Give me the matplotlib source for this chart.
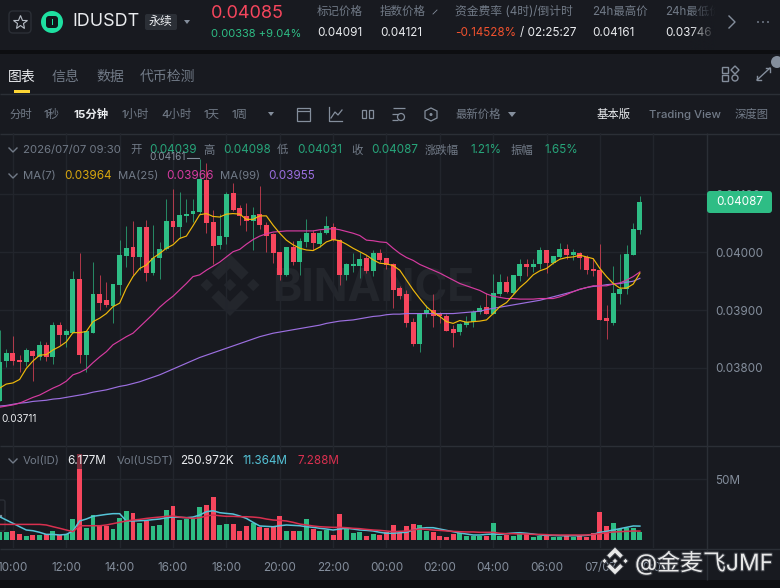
import matplotlib
matplotlib.use('Agg')
import matplotlib.pyplot as plt
import matplotlib.patheffects as pe
import numpy as np
from matplotlib.patches import FancyBboxPatch, Polygon, Rectangle, Circle

plt.rcParams['font.family'] = ['Inter', 'Noto Sans CJK SC', 'DejaVu Sans']

opens = [0.03742, 0.03812, 0.03825, 0.03814, 0.03811, 0.03830, 0.03819, 0.03839, 0.03819, 0.03874,
         0.03857, 0.03861, 0.03953, 0.03822, 0.03861, 0.03927, 0.03917, 0.03907, 0.03943, 0.03994,
         0.04010, 0.03991, 0.04044, 0.03964, 0.03990, 0.04005, 0.04054, 0.04043, 0.04063, 0.04066,
         0.04069, 0.04125, 0.04053, 0.04013, 0.04027, 0.04102, 0.04077, 0.04063, 0.04055, 0.04066,
         0.04048, 0.04032, 0.04001, 0.03960, 0.04010, 0.03983, 0.04017, 0.04034, 0.04014, 0.04034,
         0.04044, 0.04022, 0.03961, 0.03976, 0.03977, 0.03990, 0.03968, 0.03998, 0.03990, 0.03979,
         0.03939, 0.03927, 0.03879, 0.03841, 0.03893, 0.03901, 0.03894, 0.03890, 0.03867, 0.03862,
         0.03874, 0.03879, 0.03896, 0.03905, 0.03893, 0.03928, 0.03949, 0.03930, 0.03959, 0.03979,
         0.03975, 0.03979, 0.04004, 0.03982, 0.03992, 0.04006, 0.03995, 0.03999, 0.03991, 0.03971,
         0.03969, 0.03886, 0.03878, 0.03928, 0.03936, 0.03996, 0.04039]
closes = [0.03811, 0.03825, 0.03812, 0.03810, 0.03831, 0.03821, 0.03839, 0.03819, 0.03874, 0.03857,
          0.03863, 0.03953, 0.03822, 0.03863, 0.03927, 0.03913, 0.03908, 0.03945, 0.03995, 0.04008,
          0.03991, 0.04044, 0.03964, 0.03990, 0.04006, 0.04054, 0.04044, 0.04065, 0.04066, 0.04071,
          0.04127, 0.04051, 0.04011, 0.04029, 0.04101, 0.04074, 0.04062, 0.04055, 0.04065, 0.04047,
          0.04028, 0.03999, 0.03960, 0.04009, 0.03983, 0.04020, 0.04034, 0.04016, 0.04034, 0.04046,
          0.04022, 0.03960, 0.03980, 0.03979, 0.03988, 0.03968, 0.03998, 0.03986, 0.03978, 0.03935,
          0.03925, 0.03877, 0.03841, 0.03893, 0.03901, 0.03889, 0.03889, 0.03864, 0.03861, 0.03876,
          0.03880, 0.03897, 0.03904, 0.03893, 0.03930, 0.03949, 0.03931, 0.03960, 0.03979, 0.03975,
          0.03980, 0.04004, 0.03982, 0.03993, 0.04006, 0.03995, 0.04000, 0.03990, 0.03969, 0.03968,
          0.03883, 0.03881, 0.03930, 0.03936, 0.03997, 0.04040, 0.04087]
highs = [0.03866, 0.03832, 0.03855, 0.03822, 0.03834, 0.03831, 0.03847, 0.03844, 0.03880, 0.03880,
         0.03867, 0.03968, 0.03998, 0.03863, 0.03983, 0.03961, 0.03949, 0.03945, 0.04022, 0.04046,
         0.04054, 0.04044, 0.04056, 0.04047, 0.04018, 0.04092, 0.04110, 0.04104, 0.04093, 0.04092,
         0.04161, 0.04155, 0.04074, 0.04066, 0.04104, 0.04120, 0.04082, 0.04086, 0.04079, 0.04114,
         0.04053, 0.04033, 0.04001, 0.04009, 0.04020, 0.04024, 0.04057, 0.04039, 0.04039, 0.04063,
         0.04050, 0.04023, 0.03981, 0.03999, 0.04001, 0.03995, 0.04004, 0.04006, 0.03990, 0.03981,
         0.03941, 0.03934, 0.03886, 0.03894, 0.03909, 0.03928, 0.03897, 0.03893, 0.03874, 0.03877,
         0.03890, 0.03900, 0.03909, 0.03929, 0.03962, 0.03962, 0.03959, 0.03960, 0.03988, 0.03988,
         0.03988, 0.04009, 0.04004, 0.03994, 0.04016, 0.04014, 0.04005, 0.04000, 0.03995, 0.03990,
         0.04014, 0.03909, 0.03976, 0.03997, 0.04013, 0.04051, 0.04098]
lows = [0.03742, 0.03802, 0.03805, 0.03793, 0.03803, 0.03778, 0.03814, 0.03812, 0.03807, 0.03840,
        0.03837, 0.03860, 0.03808, 0.03793, 0.03860, 0.03901, 0.03906, 0.03878, 0.03926, 0.03975,
        0.03961, 0.03969, 0.03951, 0.03961, 0.03953, 0.04004, 0.04018, 0.04024, 0.04053, 0.04053,
        0.04067, 0.04034, 0.03980, 0.04005, 0.04014, 0.04072, 0.04047, 0.04037, 0.04004, 0.04041,
        0.04001, 0.03982, 0.03952, 0.03959, 0.03978, 0.03961, 0.04010, 0.04004, 0.04009, 0.04032,
        0.04020, 0.03943, 0.03952, 0.03966, 0.03956, 0.03964, 0.03959, 0.03984, 0.03971, 0.03904,
        0.03919, 0.03871, 0.03838, 0.03828, 0.03888, 0.03871, 0.03878, 0.03864, 0.03837, 0.03857,
        0.03871, 0.03871, 0.03894, 0.03893, 0.03893, 0.03924, 0.03929, 0.03928, 0.03950, 0.03959,
        0.03966, 0.03971, 0.03965, 0.03979, 0.03990, 0.03988, 0.03987, 0.03971, 0.03962, 0.03959,
        0.03883, 0.03850, 0.03874, 0.03911, 0.03928, 0.03995, 0.04031]
ma7 = [0.03765, 0.03772, 0.03774, 0.03780, 0.03799, 0.03812, 0.03822, 0.03823, 0.03831, 0.03837,
       0.03845, 0.03861, 0.03861, 0.03863, 0.03880, 0.03886, 0.03894, 0.03906, 0.03912, 0.03938,
       0.03958, 0.03972, 0.03978, 0.03990, 0.03998, 0.04007, 0.04013, 0.04024, 0.04028, 0.04046,
       0.04065, 0.04067, 0.04062, 0.04061, 0.04066, 0.04067, 0.04066, 0.04057, 0.04057, 0.04063,
       0.04063, 0.04047, 0.04033, 0.04021, 0.04013, 0.04007, 0.04004, 0.04003, 0.04009, 0.04018,
       0.04022, 0.04020, 0.04014, 0.04007, 0.04001, 0.03995, 0.03987, 0.03981, 0.03980, 0.03977,
       0.03969, 0.03952, 0.03935, 0.03920, 0.03906, 0.03896, 0.03889, 0.03880, 0.03877, 0.03882,
       0.03879, 0.03880, 0.03881, 0.03883, 0.03894, 0.03906, 0.03913, 0.03926, 0.03939, 0.03949,
       0.03961, 0.03968, 0.03972, 0.03981, 0.03988, 0.03991, 0.03992, 0.03995, 0.03992, 0.03989,
       0.03972, 0.03958, 0.03946, 0.03938, 0.03938, 0.03945, 0.03964]
ma25 = [0.03732, 0.03734, 0.03736, 0.03739, 0.03744, 0.03749, 0.03753, 0.03759, 0.03765, 0.03770,
        0.03777, 0.03788, 0.03792, 0.03798, 0.03809, 0.03819, 0.03828, 0.03840, 0.03847, 0.03854,
        0.03860, 0.03871, 0.03882, 0.03893, 0.03905, 0.03915, 0.03924, 0.03935, 0.03946, 0.03958,
        0.03961, 0.03969, 0.03976, 0.03983, 0.03992, 0.04001, 0.04005, 0.04014, 0.04022, 0.04028,
        0.04032, 0.04035, 0.04036, 0.04037, 0.04037, 0.04037, 0.04037, 0.04037, 0.04039, 0.04040,
        0.04041, 0.04039, 0.04036, 0.04033, 0.04029, 0.04021, 0.04020, 0.04018, 0.04017, 0.04007,
        0.03998, 0.03991, 0.03986, 0.03979, 0.03974, 0.03969, 0.03964, 0.03958, 0.03952, 0.03946,
        0.03942, 0.03938, 0.03934, 0.03928, 0.03924, 0.03922, 0.03920, 0.03920, 0.03919, 0.03919,
        0.03919, 0.03920, 0.03920, 0.03920, 0.03923, 0.03927, 0.03932, 0.03936, 0.03939, 0.03942,
        0.03942, 0.03942, 0.03945, 0.03947, 0.03952, 0.03958, 0.03966]
ma99 = [0.03734, 0.03735, 0.03737, 0.03739, 0.03740, 0.03742, 0.03743, 0.03744, 0.03746, 0.03747,
        0.03749, 0.03751, 0.03753, 0.03755, 0.03758, 0.03760, 0.03762, 0.03765, 0.03768, 0.03770,
        0.03773, 0.03776, 0.03780, 0.03784, 0.03788, 0.03793, 0.03798, 0.03803, 0.03808, 0.03813,
        0.03818, 0.03822, 0.03826, 0.03830, 0.03834, 0.03838, 0.03842, 0.03846, 0.03850, 0.03854,
        0.03857, 0.03860, 0.03862, 0.03864, 0.03866, 0.03868, 0.03870, 0.03872, 0.03874, 0.03877,
        0.03879, 0.03881, 0.03882, 0.03883, 0.03885, 0.03887, 0.03889, 0.03890, 0.03892, 0.03893,
        0.03893, 0.03894, 0.03894, 0.03894, 0.03894, 0.03894, 0.03894, 0.03894, 0.03894, 0.03895,
        0.03896, 0.03897, 0.03898, 0.03901, 0.03903, 0.03905, 0.03907, 0.03909, 0.03911, 0.03913,
        0.03915, 0.03917, 0.03920, 0.03923, 0.03926, 0.03929, 0.03932, 0.03936, 0.03939, 0.03941,
        0.03942, 0.03944, 0.03945, 0.03946, 0.03948, 0.03950, 0.03955]
volumes = [6.8, 6.3, 7.6, 4.9, 3.0, 4.4, 4.1, 5.2, 7.4, 3.8,
           4.6, 16.9, 70.2, 9.8, 20.7, 12.0, 11.7, 9.3, 18.0, 23.8,
           21.8, 13.7, 15.6, 11.7, 12.3, 24.6, 27.8, 16.4, 17.2, 17.7,
           26.8, 28.7, 35.5, 12.3, 13.1, 13.1, 7.1, 11.7, 13.7, 10.9,
           10.1, 10.6, 19.9, 7.4, 7.4, 7.4, 16.9, 8.7, 7.4, 7.9,
           4.1, 21.3, 9.0, 6.0, 6.8, 3.5, 4.9, 4.1, 6.3, 12.3,
           5.7, 11.5, 13.1, 12.3, 7.4, 6.3, 3.3, 2.5, 5.2, 5.7,
           3.0, 3.0, 3.0, 3.5, 13.7, 3.5, 4.1, 3.5, 4.6, 4.6,
           2.7, 3.3, 3.3, 2.7, 2.7, 3.3, 2.7, 3.0, 2.7, 5.5,
           22.9, 11.5, 13.9, 9.0, 10.1, 9.6, 6.2]
vol_ma_fast = [19.1, 16.4, 13.7, 10.9, 8.2, 7.6, 6.3, 4.6, 4.6, 4.1,
               4.6, 7.4, 15.6, 17.2, 19.4, 20.2, 21.0, 21.6, 21.6, 15.6,
               15.6, 15.8, 16.1, 16.7, 17.2, 18.3, 18.8, 18.6, 18.3, 18.8,
               20.5, 23.2, 24.0, 22.4, 21.8, 21.3, 19.7, 17.7, 14.5, 11.5,
               11.2, 10.9, 11.7, 12.3, 12.0, 11.7, 10.9, 10.4, 9.6, 9.0,
               8.2, 9.0, 9.6, 9.0, 8.2, 7.9, 7.4, 6.3, 5.5, 5.5,
               6.0, 6.3, 8.2, 9.6, 10.1, 10.1, 9.0, 7.9, 6.8, 5.7,
               4.9, 4.1, 4.1, 4.6, 4.9, 4.6, 5.2, 5.7, 6.0, 5.5,
               4.9, 4.1, 3.8, 3.8, 3.5, 3.5, 3.5, 3.5, 3.8, 4.6,
               6.3, 7.1, 8.2, 9.3, 10.4, 11.5, 11.4]
vol_ma_slow = [12.8, 12.8, 12.8, 12.8, 12.8, 12.8, 12.8, 12.3, 10.9, 9.6,
               8.2, 6.8, 11.7, 11.7, 11.7, 11.7, 12.3, 13.4, 14.5, 15.6,
               16.4, 16.9, 17.7, 18.3, 18.8, 19.4, 19.7, 18.8, 18.3, 17.7,
               18.3, 19.7, 20.5, 19.9, 19.4, 19.4, 19.1, 19.1, 18.8, 18.3,
               17.2, 16.4, 16.1, 15.6, 14.5, 13.1, 12.3, 11.5, 10.9, 10.6,
               10.4, 10.4, 10.1, 9.6, 9.3, 8.7, 8.2, 7.9, 7.4, 6.8,
               7.1, 7.4, 8.2, 9.0, 8.7, 8.2, 7.9, 7.4, 7.1, 6.8,
               6.6, 6.6, 6.3, 6.3, 6.3, 5.5, 5.2, 5.2, 4.9, 4.9,
               4.6, 4.6, 4.4, 4.1, 4.1, 4.1, 4.1, 4.1, 4.1, 4.6,
               5.2, 6.0, 6.6, 6.8, 7.1, 7.4, 7.3]

time_ticks = [2, 10, 18, 26, 34, 42, 50, 58, 66, 74, 82, 90, 98]
time_labels = ['10:00', '12:00', '14:00', '16:00', '18:00', '20:00', '22:00',
               '00:00', '02:00', '04:00', '06:00', '07/07', '10:00']
price_ticks = [0.041, 0.040, 0.039, 0.038]
price_labels = ['0.04100', '0.04000', '0.03900', '0.03800']
vol_ticks = [50]
vol_labels = ['50M']

BG = '#181a20'
DARK = '#0d0e11'
LINE = '#2b2f36'
GRID = '#22252c'
GRAY = '#848e9c'
DIM = '#717a87'
WHITE = '#eaecef'
UP = '#2ebd85'
UP_DIM = '#27a57a'
DOWN = '#f6465d'
YELLOW = '#f0b90b'
PINK = '#d63ba0'
PURPLE = '#9c6fe0'
VOL_FAST = '#55c4d8'
VOL_SLOW = '#d9304f'

fig = plt.figure(figsize=(7.8, 5.88), dpi=100, facecolor=BG)


def overlay(z):
    a = fig.add_axes([0, 0, 1, 1], zorder=z)
    a.set_xlim(0, 780)
    a.set_ylim(588, 0)
    a.axis('off')
    return a


ui = overlay(0)
top = overlay(5)


def txt(x, y, s, size=8.2, color=GRAY, ax=ui, **kw):
    return ax.text(x, y, s, fontsize=size, color=color, va='center', **kw)


def hline(y, x0=0, x1=780, color=LINE, lw=1):
    ui.plot([x0, x1], [y, y], color=color, lw=lw, solid_capstyle='butt')


def vline(x, y0, y1, color=LINE, lw=1):
    ui.plot([x, x], [y0, y1], color=color, lw=lw, solid_capstyle='butt')


def icon(pts, ax=ui, color=GRAY, lw=0.9):
    xs, ys = zip(*pts)
    ax.plot(xs, ys, color=color, lw=lw)


def binance_logo(ax, cx, cy, r, color, **kw):
    shapes = [[(0, -0.2), (0.2, 0), (0, 0.2), (-0.2, 0)],
              [(-0.75, -0.2), (-0.55, 0), (-0.75, 0.2), (-0.95, 0)],
              [(0.75, -0.2), (0.95, 0), (0.75, 0.2), (0.55, 0)],
              [(0, -1), (0.6, -0.4), (0.37, -0.17), (0, -0.54), (-0.37, -0.17), (-0.6, -0.4)],
              [(0, 1), (0.6, 0.4), (0.37, 0.17), (0, 0.54), (-0.37, 0.17), (-0.6, 0.4)]]
    for s in shapes:
        ax.add_patch(Polygon([(cx + r * a, cy + r * b) for a, b in s], closed=True, fc=color, **kw))


# header
ui.add_patch(Rectangle((0, 50), 780, 4, fc=DARK, ec='none'))
ui.add_patch(Rectangle((0, 580), 780, 8, fc=DARK, ec='none'))
ui.add_patch(FancyBboxPatch((9, 11), 22, 22, boxstyle='round,pad=0,rounding_size=4', fc='none', ec=LINE, lw=1))
ui.plot([20], [22], marker='*', ms=10, mfc='none', mec='#b7bdc6', mew=0.8)
ui.add_patch(Circle((52, 22), 11, fc='#1ee0a1', ec='none'))
ui.add_patch(FancyBboxPatch((46, 16), 12, 12, boxstyle='round,pad=0,rounding_size=3', fc='#10151a', ec='none'))
ui.add_patch(Rectangle((52, 19), 1.2, 6, fc='#1ee0a1', ec='none'))
txt(72, 22, 'IDUSDT', 12.9, WHITE)
ui.add_patch(FancyBboxPatch((145, 14), 32, 16, boxstyle='round,pad=0,rounding_size=2', fc=LINE, ec='none'))
txt(149, 22, '永续', 8.6, WHITE)
ui.add_patch(Polygon([(184, 20), (190, 20), (187, 24)], fc=GRAY, ec='none'))
txt(211, 14, '0.04085', 13, DOWN)
txt(211, 34, '0.00338 +9.04%', 8, UP)
for x, label, val in [(317, '标记价格', '0.04091'), (380, '指数价格', '0.04121'), (592, '24h最高价', '0.04161'),
                      (665, '24h最低价', '0.03746')]:
    txt(x, 12, label, 8.3, DIM)
    txt(x, 33, val, 8.4, WHITE)
icon([(433, 14), (437, 10)], lw=0.6)
txt(455, 12, '资金费率 (4时)/倒计时', 8.5, DIM)
txt(455, 33, '-0.14528%', 8.4, '#f0512e')
txt(520, 33, '/ 02:25:27', 8.4, WHITE)

fade = np.zeros((1, 40, 4))
fade[..., 0:3] = [0x18 / 255, 0x1a / 255, 0x20 / 255]
fade[..., 3] = np.linspace(0, 1, 40)
ui.imshow(fade, extent=(690, 716, 50, 0), aspect='auto', zorder=3)
ui.set_xlim(0, 780)
ui.set_ylim(588, 0)
ui.add_patch(Rectangle((716, 0), 64, 50, fc=BG, ec='none', zorder=3))
l_chev = ui.plot([729, 735, 729], [16, 22, 28], color=GRAY, lw=1, zorder=4)
for x in [758, 763, 768]:
    ui.add_patch(Circle((x, 22), 0.9, fc=GRAY, ec='none', zorder=4))

# tabs and toolbar
for x, s, c in [(8, '图表', WHITE), (52, '信息', DIM), (96, '数据', DIM), (140, '代币检测', DIM)]:
    txt(x, 76.5, s, 10, c)
ui.add_patch(Rectangle((14, 90), 16, 3, fc='#fcd535', ec='none', zorder=3))
hline(93.5)
hline(133.5)
for r in [(722, 67), (722, 75)]:
    ui.add_patch(Rectangle(r, 6, 6, fc='none', ec=GRAY, lw=1))
ui.add_patch(Circle((735, 78), 3, fc='none', ec=GRAY, lw=1))
ui.add_patch(Polygon([(735, 66), (739, 70), (735, 74), (731, 70)], fc='none', ec=GRAY, lw=1))
icon([(757, 80), (770, 68)], lw=1)
icon([(757, 76), (757, 80), (761, 80)], lw=1)
icon([(766, 68), (770, 68), (770, 72)], lw=1)
ui.add_patch(Circle((777, 62), 6, fc=GRAY, ec='none'))

for x, s, c in [(9, '分时', DIM), (44, '1秒', DIM), (121, '1小时', DIM), (161, '4小时', DIM),
                (203, '1天', DIM), (232, '1周', DIM), (455, '最新价格', DIM), (649, 'Trading View', DIM),
                (735, '深度图', DIM)]:
    txt(x, 114.5, s, 8.2, c, fontweight='medium')
txt(73, 114.5, '15分钟', 8.2, WHITE, fontweight='bold')
txt(597, 114.5, '基本版', 8.2, WHITE)
ui.add_patch(Polygon([(268, 112), (274, 112), (271, 116)], fc=GRAY, ec='none'))
ui.add_patch(Polygon([(508, 112), (516, 112), (512, 117)], fc=GRAY, ec='none'))
ui.add_patch(Rectangle((297, 108), 13, 13, fc='none', ec=GRAY, lw=0.9))
hline(111, 297, 310, GRAY, 0.9)
icon([(329, 107), (329, 121), (342, 121)])
icon([(331, 118), (335, 112), (338, 115), (342, 110)])
ui.add_patch(Rectangle((362, 110), 4, 8, fc='none', ec=GRAY, lw=0.9))
ui.add_patch(Rectangle((369, 110), 4, 8, fc='none', ec=GRAY, lw=0.9))
hline(108, 393, 405, GRAY, 0.9)
hline(114, 392, 398, GRAY, 0.9)
hline(120, 392, 398, GRAY, 0.9)
ui.add_patch(Circle((401, 117), 3.5, fc='none', ec=GRAY, lw=0.9))
ui.add_patch(Polygon([(431, 108), (437, 111), (437, 118), (431, 121), (425, 118), (425, 111)], fc='none', ec=GRAY, lw=0.9))
ui.add_patch(Circle((431, 114.5), 1.5, fc=GRAY, ec='none'))

# panel frame lines
hline(445.5)
hline(548.5)
vline(707, 133, 580)

# faint watermark under the candles
binance_logo(ui, 230, 285, 31, '#23262c', ec='none')
txt(272, 289, 'BINANCE', 32, '#23262c', fontweight='bold')

# legend rows sit over the candles
for y in [150, 176, 461]:
    icon([(9, y - 2), (13, y + 2), (17, y - 2)], ax=top, color=DIM, lw=1)
txt(23, 150, '2026/07/07 09:30', 8.2, DIM, ax=top)
for x, s in [(130, '开'), (203, '高'), (277, '低'), (351, '收'), (425, '涨跌幅'), (511, '振幅')]:
    txt(x, 150, s, 8.2, DIM, ax=top)
for x, s in [(149, '0.04039'), (223, '0.04098'), (297, '0.04031'), (371, '0.04087'), (470, '1.21%'), (544, '1.65%')]:
    txt(x, 150, s, 8.4, UP_DIM, ax=top)
txt(23, 176, 'MA(7)', 8.2, DIM, ax=top)
txt(64, 176, '0.03964', 8.4, '#d9a70e', ax=top)
txt(118, 176, 'MA(25)', 8.2, DIM, ax=top)
txt(166, 176, '0.03966', 8.4, PINK, ax=top)
txt(220, 176, 'MA(99)', 8.2, DIM, ax=top)
txt(268, 176, '0.03955', 8.4, PURPLE, ax=top)
top.add_patch(Rectangle((76, 454), 7, 15, fc=BG, ec='none', alpha=0.55))
txt(23, 461, 'Vol(ID)', 8.2, DIM, ax=top)
txt(67, 461, '6.177M', 8.4, WHITE, ax=top)
txt(117, 461, 'Vol(USDT)', 8.2, DIM, ax=top)
txt(180, 461, '250.972K', 8.4, WHITE, ax=top)
txt(242, 461, '11.364M', 8.4, VOL_FAST, ax=top)
txt(298, 461, '7.288M', 8.4, VOL_SLOW, ax=top)
ui.add_patch(FancyBboxPatch((-6, 500), 11, 31, boxstyle='round,pad=0,rounding_size=2', fc=BG, ec=LINE, lw=1))
ui.add_patch(Circle((1, 516), 1.2, fc=GRAY, ec='none'))

x = np.arange(len(opens))
o, h, l, c = map(np.array, (opens, highs, lows, closes))
colors = [UP if b >= a else DOWN for a, b in zip(opens, closes)]

# 1 candle is about 6.67 px, the first one sits on the left edge
ax = fig.add_axes([0, 1 - 445 / 588, 707 / 780, 312 / 588], zorder=1, facecolor='none')
ax.set_xlim(0.06, 106.06)
ax.set_ylim(0.036666, 0.042064)
ax.vlines(x, l, h, colors=colors, lw=0.6, alpha=0.8)
ax.bar(x, np.abs(c - o), bottom=np.minimum(o, c), width=0.74, color=colors)
ax.plot(x, ma99, color=PURPLE, lw=0.85)
ax.plot(x, ma25, color=PINK, lw=0.85)
ax.plot(x, ma7, color=YELLOW, lw=0.85)
ax.set_xticks(time_ticks)
ax.set_xticklabels([])
ax.yaxis.tick_right()
ax.set_yticks(price_ticks)
ax.set_yticklabels(price_labels)
ax.tick_params(axis='both', length=0, pad=6, labelcolor=GRAY, labelsize=8.4)
ax.grid(True, color=GRID, lw=1)
ax.set_axisbelow(True)
for s in ax.spines.values():
    s.set_visible(False)

vol_ax = fig.add_axes([0, 1 - 548 / 588, 707 / 780, 103 / 588], zorder=2, facecolor='none')
vol_ax.set_xlim(0.06, 106.06)
vol_ax.set_ylim(-6.56, 77.9)
vol_ax.bar(x, volumes, width=0.74, color=colors)
vol_ax.plot(x, vol_ma_fast, color=VOL_FAST, lw=1.1)
vol_ax.plot(x, vol_ma_slow, color=VOL_SLOW, lw=1.1)
vol_ax.set_xticks(time_ticks)
vol_ax.set_xticklabels(time_labels)
vol_ax.yaxis.tick_right()
vol_ax.set_yticks(vol_ticks)
vol_ax.set_yticklabels(vol_labels)
vol_ax.tick_params(axis='both', length=0, labelcolor=GRAY, labelsize=8.4)
vol_ax.tick_params(axis='x', pad=10)
vol_ax.tick_params(axis='y', pad=6)
vol_ax.grid(True, color=GRID, lw=1)
vol_ax.set_axisbelow(True)
for s in vol_ax.spines.values():
    s.set_visible(False)

# extreme labels and last price tag
txt(149, 157, '0.04161', 7.2, GRAY, ax=top)
icon([(187, 158), (199, 158)], ax=top, lw=0.8)
txt(1, 419, '0.03711', 7.2, WHITE, ax=top)
top.add_patch(FancyBboxPatch((707, 191), 65, 22, boxstyle='round,pad=0,rounding_size=3', fc=UP, ec='none'))
txt(716, 202, '0.04087', 8.4, 'white', ax=top)

# repost watermark
halo = [pe.withStroke(linewidth=1.6, foreground='#3a3d44')]
binance_logo(top, 615, 561, 14, '#e8e8e8', ec='#3a3d44', lw=0.6)
txt(635, 563, '@金麦飞JMF', 16.5, '#e8e8e8', ax=top, path_effects=halo)

fig.savefig('out.png', dpi=100, facecolor=BG)
